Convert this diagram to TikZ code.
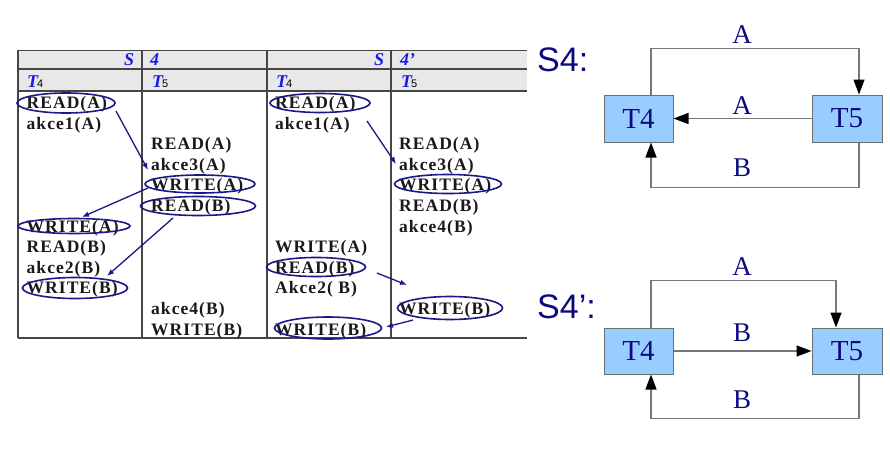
\documentclass[tikz,border=0pt]{standalone}
\usepackage{fontspec}
\setmainfont{Liberation Serif}
\newfontfamily\tabfont[LetterSpace=6]{Liberation Serif}
\newfontfamily\lblsans{Liberation Sans}
\usetikzlibrary{shapes.geometric,arrows.meta,calc}
\definecolor{navy}{RGB}{25,25,135}
\definecolor{hdrblue}{RGB}{25,25,235}
\definecolor{hdrgray}{RGB}{232,232,232}
\definecolor{rulec}{RGB}{70,70,70}
\definecolor{boxblue}{RGB}{153,204,255}
\definecolor{boxedge}{RGB}{110,110,110}
\definecolor{gline}{RGB}{120,120,120}
\definecolor{gtext}{RGB}{10,10,128}
\begin{document}
\begin{tikzpicture}[x=1pt,y=-1pt,
  cell/.style={anchor=base west,inner sep=0pt,font=\tabfont\bfseries\fontsize{17.5}{20}\selectfont,text=black!90},
  hdr/.style={anchor=base west,inner sep=0pt,font=\bfseries\itshape\fontsize{18}{20}\selectfont,text=hdrblue},
  sub/.style={anchor=base west,inner sep=0pt,font=\lblsans\fontsize{11}{12}\selectfont,text=black},
  oval/.style={ellipse,draw=navy,line width=1.6pt,inner sep=0pt},
  tarr/.style={draw=navy,line width=1.3pt,-{Latex[length=7pt,width=5.5pt]}},
  tx/.style={draw=boxedge,fill=boxblue,line width=1pt,minimum width=69pt,minimum height=47pt,inner sep=0pt,font=\fontsize{29}{32}\selectfont,text=gtext},
  glab/.style={inner sep=0pt,font=\fontsize{27}{30}\selectfont,text=gtext},
  gname/.style={anchor=west,inner sep=0pt,font=\lblsans\fontsize{34}{38}\selectfont,text=gtext},
  garr/.style={draw=gline,line width=1.3pt,arrows={-{Triangle[length=15pt,width=11pt,color=black]}}}
]
\useasboundingbox (0,0) rectangle (890,452);
\fill[white] (0,0) rectangle (890,452);
% ---------- table ----------
\fill[hdrgray] (18,50) rectangle (527,91);
\draw[rulec,line width=0.9pt] (18,50) -- (527,50);
\draw[rulec,line width=1.1pt] (18,69) -- (527,69);
\draw[rulec,line width=1.9pt] (18,91) -- (527,91);
\draw[rulec,line width=1.9pt] (18,338) -- (527,338);
\foreach \xx in {18,142,267,391} \draw[rulec,line width=1.2pt] (\xx,50) -- (\xx,338);
% headers
\node[hdr] (hs1) at (124,66) {S};
\node[hdr] (hn1) at (150,66) {4};
\node[hdr] (hs2) at (374,66) {S};
\node[hdr] (hn2) at (400,66) {4’};
\node[hdr] (ta) at (27,87.5) {T};  \node[sub] (tas) at (37,87.5) {4};
\node[hdr] (tb) at (152,87.5) {T}; \node[sub] (tbs) at (162,87.5) {5};
\node[hdr] (tc) at (276,87.5) {T}; \node[sub] (tcs) at (286,87.5) {4};
\node[hdr] (td) at (401,87.5) {T}; \node[sub] (tds) at (411,87.5) {5};
% column 1 (S4, T4)
\node[cell] (a0) at (26.5,108.5) {READ(A)};
\node[cell] (a1) at (26.5,129.1) {akce1(A)};
\node[cell] (a6) at (26.5,232.1) {WRITE(A)};
\node[cell] (a7) at (26.5,252.7) {READ(B)};
\node[cell] (a8) at (26.5,273.3) {akce2(B)};
\node[cell] (a9) at (26.5,293.9) {WRITE(B)};
% column 2 (S4, T5)
\node[cell] (b2) at (151,149.7) {READ(A)};
\node[cell] (b3) at (151,170.3) {akce3(A)};
\node[cell] (b4) at (151,190.9) {WRITE(A)};
\node[cell] (b5) at (151,211.5) {READ(B)};
\node[cell] (b10) at (151,314.5) {akce4(B)};
\node[cell] (b11) at (151,335.1) {WRITE(B)};
% column 3 (S4', T4)
\node[cell] (c0) at (275,108.5) {READ(A)};
\node[cell] (c1) at (275,129.1) {akce1(A)};
\node[cell] (c7) at (275,252.7) {WRITE(A)};
\node[cell] (c8) at (275,273.3) {READ(B)};
\node[cell] (c9) at (275,293.9) {Akce2( B)};
\node[cell] (c11) at (275,335.1) {WRITE(B)};
% column 4 (S4', T5)
\node[cell] (d2) at (399,149.7) {READ(A)};
\node[cell] (d3) at (399,170.3) {akce3(A)};
\node[cell] (d4) at (399,190.9) {WRITE(A)};
\node[cell] (d5) at (399,211.5) {READ(B)};
\node[cell] (d6) at (399,232.1) {akce4(B)};
\node[cell] (d10) at (399,314.5) {WRITE(B)};
% ovals
\node[oval,minimum width=98pt,minimum height=20pt] (ea0) at (66,103) {};
\node[oval,minimum width=110pt,minimum height=18pt] (eb4) at (200,184) {};
\node[oval,minimum width=115pt,minimum height=19pt] (eb5) at (198,206) {};
\node[oval,minimum width=112pt,minimum height=15pt] (ea6) at (74,226) {};
\node[oval,minimum width=105pt,minimum height=21pt] (ea9) at (75,288) {};
\node[oval,minimum width=100pt,minimum height=19pt] (ec0) at (320,103) {};
\node[oval,minimum width=107pt,minimum height=19pt] (ed4) at (448,184) {};
\node[oval,minimum width=99pt,minimum height=19pt] (ec8) at (316,267) {};
\node[oval,minimum width=105pt,minimum height=23pt] (ed10) at (450,308) {};
\node[oval,minimum width=107pt,minimum height=22pt] (ec11) at (328,328) {};
% arrow end points
\coordinate (p1s) at (116,111); \coordinate (p1e) at (148,170);
\coordinate (p2s) at (148,188); \coordinate (p2e) at (82,217);
\coordinate (p3s) at (173,218); \coordinate (p3e) at (107,276);
\coordinate (q1s) at (367,121); \coordinate (q1e) at (396,164);
\coordinate (q2s) at (377,273); \coordinate (q2e) at (407,285);
\coordinate (q3s) at (413,320); \coordinate (q3e) at (386,327);
\draw[tarr] (p1s) -- (p1e);
\draw[tarr] (p2s) -- (p2e);
\draw[tarr] (p3s) -- (p3e);
\draw[tarr] (q1s) -- (q1e);
\draw[tarr] (q2s) -- (q2e);
\draw[tarr] (q3s) -- (q3e);
% ---------- graph S4 ----------
\node[gname] (g1) at (537,60) {S4:};
\node[tx] (t4a) at (638.5,118.5) {T4};
\node[tx,minimum width=70pt] (t5a) at (847,118.5) {T5};
\draw[garr] ([xshift=12.5pt]t4a.north) -- ++(0,-46) -| ([xshift=12pt]t5a.north);
\draw[garr] (t5a.west) -- (t4a.east);
\draw[garr] ([xshift=12pt]t5a.south) -- ++(0,45) -| ([xshift=12.5pt]t4a.south);
\node[glab] (la1) at (742,35) {A};
\node[glab] (la2) at (742,106) {A};
\node[glab] (la3) at (742,168) {B};
% ---------- graph S4' ----------
\node[gname] (g2) at (537,307) {S4’:};
\node[tx,minimum height=46pt] (t4b) at (638.5,351) {T4};
\node[tx,minimum width=70pt,minimum height=46pt] (t5b) at (847,351) {T5};
\draw[garr] ([xshift=12.5pt]t4b.north) -- ++(0,-47) -| ([xshift=-11pt]t5b.north);
\draw[garr] (t4b.east) -- (t5b.west);
\draw[garr] ([xshift=12pt]t5b.south) -- ++(0,44) -| ([xshift=12.5pt]t4b.south);
\node[glab] (lb1) at (742,267) {A};
\node[glab] (lb2) at (742,333) {B};
\node[glab] (lb3) at (742,400) {B};
\end{tikzpicture}
\end{document}
